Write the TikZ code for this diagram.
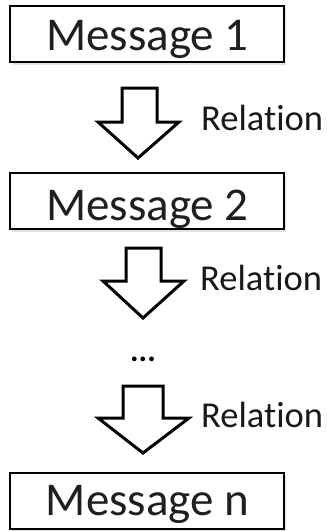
\documentclass[tikz,border=0pt]{standalone}
\usepackage{fontspec}
\setmainfont{Carlito}[Ligatures=NoCommon]
\usetikzlibrary{shadows}
\tikzset{
  msgbox/.style={draw=black, line width=2pt, fill=white, minimum width=274pt, minimum height=56pt, inner sep=0pt,
    drop shadow={opacity=0.22, shadow xshift=2pt, shadow yshift=-3pt}},
  msgtext/.style={font=\fontsize{47}{52}\selectfont, text=black!88, inner sep=0pt, anchor=base},
  reltext/.style={font=\fontsize{36.5}{40}\selectfont, text=black!90, inner sep=0pt, anchor=base west},
  blockarrow/.style={draw=black, line width=3pt, fill=white, line join=miter},
}
\begin{document}
\begin{tikzpicture}[x=1pt, y=-1pt]
\useasboundingbox (0,0) rectangle (327,531);
% boxes
\node[msgbox] (m1) at (147,34) {};
\node[msgtext] (t1) at (147.5,50) {Message 1};
\node[msgbox] (m2) at (147,201) {};
\node[msgtext] (t2) at (147.5,220) {Message 2};
\node[msgbox] (mn) at (147,501) {};
\node[msgtext] (tn) at (147.5,515) {Message n};
% arrows
\draw[blockarrow] (122,88) -- (157,88) -- (157,122) -- (179,122) -- (138,158) -- (98,122) -- (122,122) -- cycle;
\draw[blockarrow] (126,248) -- (161,248) -- (161,281) -- (184,281) -- (143,318) -- (103,281) -- (126,281) -- cycle;
\draw[blockarrow] (123,386) -- (163,386) -- (163,418) -- (189,418) -- (143,453) -- (98,418) -- (123,418) -- cycle;
% labels
\node[reltext] (r1) at (201,130) {Relation};
\node[reltext] (r2) at (200,290) {Relation};
\node[reltext] (r3) at (201,427) {Relation};
\node[inner sep=0pt] (dots) at (143,359) {\fontsize{32}{32}\selectfont\textbf{...}};
\end{tikzpicture}
\end{document}
